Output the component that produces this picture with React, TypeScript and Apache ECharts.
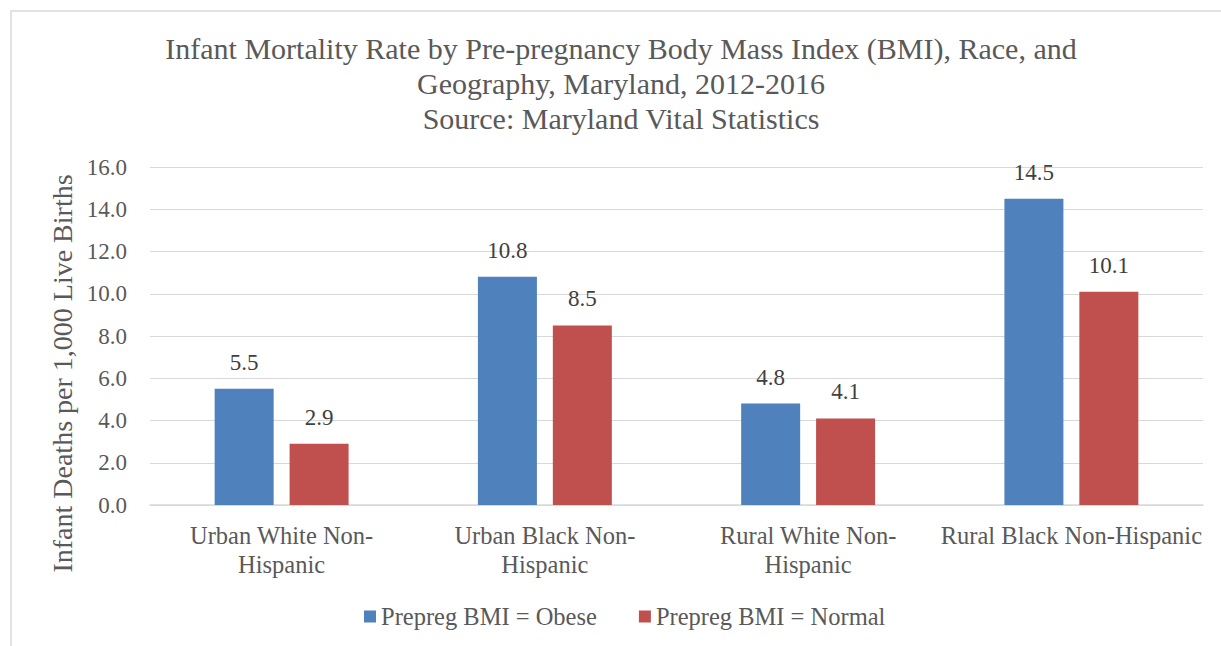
import React, { useEffect, useRef } from "react";
import * as echarts from "echarts";

const titleLines = [
  "Infant Mortality Rate by Pre-pregnancy Body Mass Index (BMI), Race, and",
  "Geography, Maryland, 2012-2016",
  "Source: Maryland Vital Statistics",
];
const categories = [
  "Urban White Non-\nHispanic",
  "Urban Black Non-\nHispanic",
  "Rural White Non-\nHispanic",
  "Rural Black Non-Hispanic",
];
const seriesNames = ["Prepreg BMI = Obese", "Prepreg BMI = Normal"];
const obeseValues = [5.5, 10.8, 4.8, 14.5];
const normalValues = [2.9, 8.5, 4.1, 10.1];
const yAxisTitle = "Infant Deaths per 1,000 Live Births";

const FONT = "'Liberation Serif', serif";
const TEXT = "#595959";

export default function App() {
  const ref = useRef<HTMLDivElement>(null);
  useEffect(() => {
    if (!ref.current) return;
    const chart = echarts.init(ref.current, undefined, { renderer: "svg" });
    const labelCfg = {
      show: true,
      position: "top",
      distance: 15,
      fontFamily: FONT,
      fontSize: 23,
      color: "#404040",
      formatter: (p: any) => Number(p.value).toFixed(1),
    };
    chart.setOption({
      animation: false,
      backgroundColor: "#ffffff",
      textStyle: { fontFamily: FONT },
      legend: {
        data: seriesNames,
        bottom: 12,
        left: 359,
        icon: "rect",
        itemWidth: 12,
        itemHeight: 12,
        itemGap: 42,
        textStyle: { fontFamily: FONT, fontSize: 24.5, color: TEXT },
      },
      grid: { left: 150, right: 18, top: 167, bottom: 141 },
      xAxis: {
        type: "category",
        data: categories,
        axisLine: { lineStyle: { color: "#D9D9D9", width: 1.5 } },
        axisTick: { show: false },
        axisLabel: {
          fontFamily: FONT,
          fontSize: 24.5,
          color: TEXT,
          lineHeight: 29,
          margin: 16,
          interval: 0,
        },
      },
      yAxis: {
        type: "value",
        min: 0,
        max: 16,
        interval: 2,
        axisLine: { show: false },
        axisTick: { show: false },
        splitLine: { lineStyle: { color: "#D9D9D9", width: 1 } },
        axisLabel: {
          fontFamily: FONT,
          fontSize: 23,
          color: TEXT,
          margin: 23,
          formatter: (v: number) => v.toFixed(1),
        },
      },
      series: [
        {
          name: seriesNames[0],
          type: "bar",
          data: obeseValues,
          barWidth: 59,
          barGap: "27%",
          itemStyle: { color: "#4F81BD" },
          label: labelCfg,
        },
        {
          name: seriesNames[1],
          type: "bar",
          data: normalValues,
          barWidth: 59,
          itemStyle: { color: "#C0504D" },
          label: labelCfg,
        },
      ],
      graphic: [
        {
          type: "rect",
          shape: { x: 11, y: 11, width: 1400, height: 1000 },
          style: { fill: "none", stroke: "#D9D9D9", lineWidth: 1.5 },
          silent: true,
          z: -10,
        },
        ...titleLines.map((line, i) => ({
          type: "text",
          x: 621,
          y: 48.5 + i * 35,
          style: {
            text: line,
            fontFamily: FONT,
            fontSize: 30,
            fill: TEXT,
            align: "center",
            verticalAlign: "middle",
          },
        })),
        {
          type: "text",
          x: 62,
          y: 373.5,
          rotation: Math.PI / 2,
          style: {
            text: yAxisTitle,
            fontFamily: FONT,
            fontSize: 28,
            fill: TEXT,
            align: "center",
            verticalAlign: "middle",
          },
        },
      ],
    });
    return () => chart.dispose();
  }, []);
  return (
    <div
      ref={ref}
      style={{ position: "fixed", left: 0, top: 0, width: 1221, height: 646 }}
    />
  );
}
